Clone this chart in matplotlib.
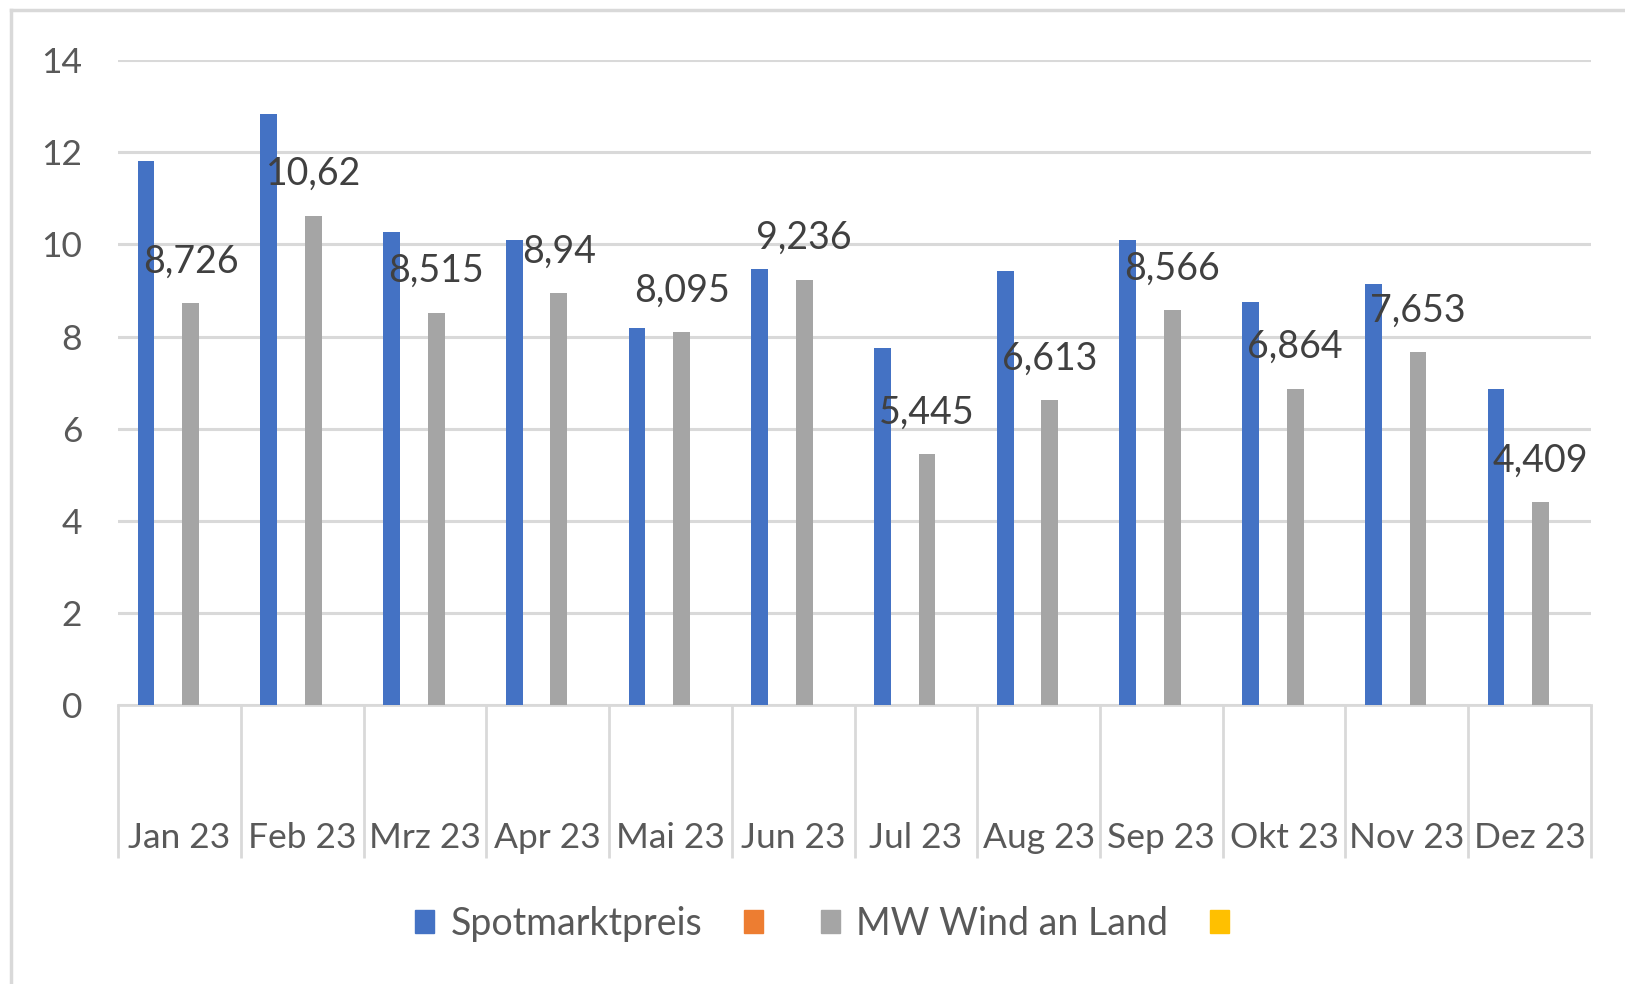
import matplotlib.pyplot as plt
import numpy as np
from matplotlib.lines import Line2D
from matplotlib.patches import Patch

# data
months = ['Jan 23', 'Feb 23', 'Mrz 23', 'Apr 23', 'Mai 23', 'Jun 23',
          'Jul 23', 'Aug 23', 'Sep 23', 'Okt 23', 'Nov 23', 'Dez 23']
spot = [11.8, 12.83, 10.27, 10.09, 8.19, 9.46, 7.76, 9.42, 10.09, 8.76, 9.14, 6.87]
wind = [8.726, 10.62, 8.515, 8.94, 8.095, 9.236, 5.445, 6.613, 8.566, 6.864, 7.653, 4.409]
wind_labels = ['8,726', '10,62', '8,515', '8,94', '8,095', '9,236',
               '5,445', '6,613', '8,566', '6,864', '7,653', '4,409']

plt.rcParams['font.family'] = ['Lato', 'DejaVu Sans']
txt = '#595959'
grid = '#d9d9d9'

fig = plt.figure(figsize=(16.25, 9.84), dpi=100)
ax = fig.add_axes([0.0727, 0.2835, 0.9063, 0.6554])

x = np.arange(len(months))
w = 0.137
ax.bar(x - 0.273, spot, w, color='#4472C4', zorder=3)
ax.bar(x + 0.091, wind, w, color='#A5A5A5', zorder=3)

for xi, v, lab in zip(x, wind, wind_labels):
    ax.annotate(lab, (xi + 0.091, v), xytext=(0, 30), textcoords='offset points',
                ha='center', va='center', fontsize=27, color='#404040', zorder=4)

ax.set_xlim(-0.5, len(months) - 0.5)
ax.set_ylim(0, 14)
ax.set_yticks(range(0, 15, 2))
ax.yaxis.grid(True, color=grid, linewidth=2.2, zorder=0)
ax.tick_params(axis='y', length=0, pad=26, labelsize=25.5, labelcolor=txt)

# category separators as long ticks, labels on minor ticks
ax.set_xticks(np.arange(-0.5, len(months)), labels=[''] * (len(months) + 1))
ax.set_xticks(x, labels=months, minor=True)
ax.tick_params(axis='x', which='major', length=110, width=2, color=grid, direction='out')
ax.tick_params(axis='x', which='minor', length=0, pad=84, labelsize=25.5, labelcolor=txt)

for s in ['top', 'right', 'left']:
    ax.spines[s].set_visible(False)
ax.spines['bottom'].set_color(grid)
ax.spines['bottom'].set_linewidth(2)

handles = [Patch(color='#4472C4'), Patch(color='#ED7D31'),
           Patch(color='#A5A5A5'), Patch(color='#FFC000')]
labels = ['Spotmarktpreis', '', 'MW Wind an Land', '']
fig.legend(handles, labels, loc='center', bbox_to_anchor=(0.511, 0.061), ncol=4,
           frameon=False, fontsize=27, labelcolor=txt, handlelength=0.5,
           handleheight=0.55, handletextpad=0.45, columnspacing=1.1)

# outer chart frame (left and top edge visible)
fig.add_artist(Line2D([0.0066, 0.0066], [0.0, 0.9895], color=grid, linewidth=2.5))
fig.add_artist(Line2D([0.0066, 1.0], [0.9895, 0.9895], color=grid, linewidth=2.5))

fig.savefig('out.png', dpi=100)
